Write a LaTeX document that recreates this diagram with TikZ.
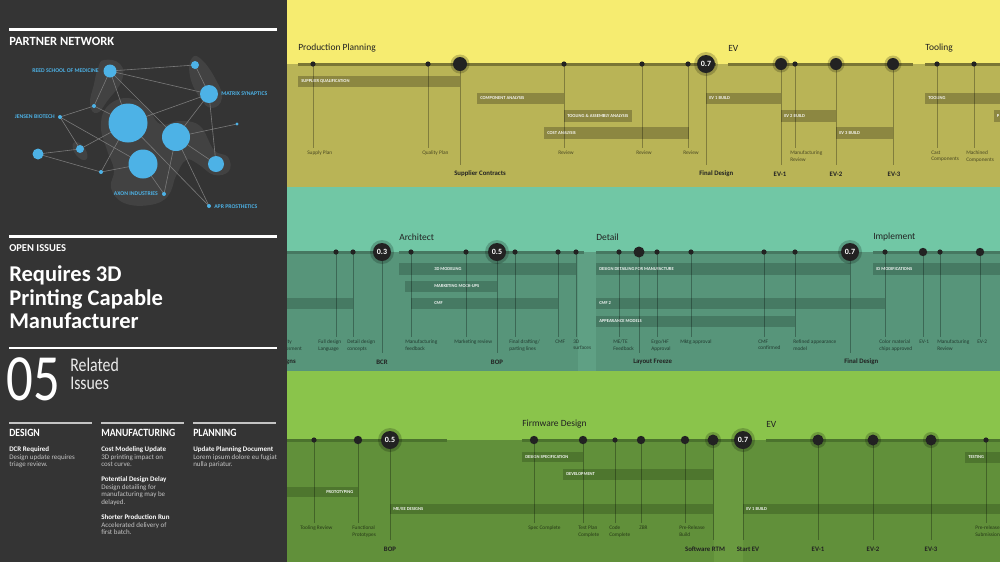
\documentclass[tikz,border=0pt]{standalone}
\usepackage{fontspec}
\setmainfont{Carlito}
\usepackage{graphicx}
\definecolor{panel}{HTML}{343434}
\definecolor{ytop}{HTML}{F6EC70}
\definecolor{ybot}{HTML}{B9B456}
\definecolor{ybarc}{HTML}{8C8741}
\definecolor{yline}{HTML}{7A7634}
\definecolor{ttop}{HTML}{71C7A5}
\definecolor{tbot}{HTML}{57957A}
\definecolor{tgap}{HTML}{5FA084}
\definecolor{tbarc}{HTML}{467A63}
\definecolor{tline}{HTML}{467861}
\definecolor{gtop}{HTML}{8AC44B}
\definecolor{gbot}{HTML}{61903A}
\definecolor{ggap}{HTML}{6A9A40}
\definecolor{gbarc}{HTML}{4E762E}
\definecolor{gline}{HTML}{4B732D}
\definecolor{dotk}{HTML}{222222}
\definecolor{nblue}{HTML}{4DB2E6}
\definecolor{edgec}{HTML}{7A7A7A}
\definecolor{itemg}{HTML}{C4C4C4}
% milestone with plain dot and small label
\newcommand\mst[7]{%
  \coordinate (#1) at (#2,#3);
  \coordinate (#1e) at (#2,#4);
  \draw[vl] (#1) -- (#1e);
  \fill[dotc] (#1) circle[radius=#5];
  \node[lab] (#1l) at (#6,#4+3) {#7};}
% milestone with big haloed dot and bold label
\newcommand\bms[8]{%
  \coordinate (#1) at (#2,#3);
  \coordinate (#1e) at (#2,#4);
  \draw[vl] (#1) -- (#1e);
  \fill[halo] (#1) circle[radius=#5+2.5];
  \fill[dotc] (#1) circle[radius=#5];
  \node[blab,anchor=#7] (#1l) at (#6,#4+9) {#8};}
% numbered milestone
\newcommand\nms[8]{%
  \coordinate (#1) at (#2,#3);
  \coordinate (#1e) at (#2,#4);
  \draw[vl] (#1) -- (#1e);
  \fill[halo] (#1) circle[radius=12];
  \node[numc] (#1n) at (#1) {#5};
  \node[blab,anchor=#7] (#1l) at (#6,#4+9) {#8};}
% task bar
\newcommand\gbar[8]{%
  \fill[#2] (#3,#4) rectangle (#5,#6);
  \node[barlab] (#1) at (#7,{(#4+#6)/2}) {#8};}
\begin{document}
\begin{tikzpicture}[x=0.75pt,y=-0.75pt,
  vl/.style={line width=0.6pt, draw=black, draw opacity=0.3},
  dotc/.style={fill=dotk},
  halo/.style={fill=black, fill opacity=0.2},
  lab/.style={anchor=north west, inner sep=0pt, align=left, font=\fontsize{4}{4.6}\selectfont, text=black, text opacity=0.6},
  blab/.style={inner sep=0pt, font=\bfseries\fontsize{5.1}{6}\selectfont, text=dotk},
  barlab/.style={anchor=west, inner sep=0pt, font=\bfseries\fontsize{3.4}{4}\selectfont, text=white, text opacity=0.92},
  ttl/.style={anchor=west, inner sep=0pt, font=\fontsize{7.1}{8}\selectfont, text=dotk},
  numc/.style={circle, fill=dotk, inner sep=0pt, minimum size=13.5pt, font=\bfseries\fontsize{6}{6}\selectfont, text=white},
  ybar/.style={fill=ybarc}, tbar/.style={fill=tbarc}, gbar/.style={fill=gbarc},
  tly/.style={draw=yline, line width=2.25pt},
  tlt/.style={draw=tline, line width=2.25pt},
  tlg/.style={draw=gline, line width=2.25pt},
  blob/.style={fill=white, fill opacity=0.07},
  edge/.style={draw=edgec, line width=0.45pt},
  nlab/.style={inner sep=0pt, font=\bfseries\fontsize{4.3}{5}\selectfont, text=nblue},
  wline/.style={draw=white, line width=2.25pt},
  colhead/.style={anchor=base west, inner sep=0pt, text=white},
  item/.style={anchor=north west, inner sep=0pt, align=left, text=itemg, font=\fontsize{5.25}{5.8}\selectfont}
]
\useasboundingbox (0,0) rectangle (1000,562);
% ================= LEFT PANEL =================
\fill[panel] (0,0) rectangle (287,562);
\draw[wline] (9,29) -- (277,29);
\node[anchor=west, inner sep=0pt, text=white, font=\bfseries\fontsize{9.4}{10}\selectfont] (pn) at (9,41) {PARTNER NETWORK};
% blobs
\fill[blob] plot[smooth cycle, tension=0.8] coordinates {(104,60) (120,64) (122,80) (108,100) (97,113) (90,104) (94,84) (98,68)};
\fill[blob] plot[smooth cycle, tension=0.8] coordinates {(192,58) (202,60) (216,80) (222,98) (212,108) (200,98) (190,76)};
\fill[blob] plot[smooth cycle, tension=0.7] coordinates {(106,108) (125,98) (146,106) (160,124) (180,121) (200,126) (214,150) (228,157) (229,171) (214,175) (198,164) (186,160) (176,176) (168,196) (150,205) (124,203) (111,188) (114,170) (107,150) (101,128)};
\fill[blob, rotate around={35:(80,151)}] (80,151) ellipse [x radius=5.5, y radius=10.5];
% network coordinates
\coordinate (reed) at (110,71);
\coordinate (s1) at (195,65);
\coordinate (matrix) at (209,94);
\coordinate (s2) at (94,106);
\coordinate (jensen) at (60,117);
\coordinate (cen) at (128,123);
\coordinate (rb) at (176,137);
\coordinate (s3) at (237,124);
\coordinate (l1) at (38,154);
\coordinate (s4) at (80,149);
\coordinate (bb) at (143,164);
\coordinate (r2) at (216,164);
\coordinate (s5) at (101,172);
\coordinate (axon) at (164,194);
\coordinate (apr) at (209,206);
\foreach \a/\b in {reed/s1, reed/matrix, reed/s2, reed/cen, reed/rb, s1/matrix, matrix/cen, matrix/rb, matrix/r2, s2/cen, s2/jensen, jensen/s4, jensen/bb, cen/s4, cen/s5, cen/apr, rb/s3, rb/r2, rb/axon, rb/apr, l1/s4, l1/s5, s5/bb, bb/axon}
  \draw[edge] (\a) -- (\b);
\foreach \n/\r in {reed/6.5, s1/4, matrix/9, s2/2, jensen/2, cen/19.5, rb/14, s3/1.6, l1/5.5, s4/4, bb/14.5, r2/8, s5/2, axon/2, apr/2}
  \fill[nblue] (\n) circle[radius=\r];
\node[nlab, anchor=east] (lreed) at (99,71) {REED SCHOOL OF MEDICINE};
\node[nlab, anchor=west] (lmatrix) at (221,94) {MATRIX SYNAPTICS};
\node[nlab, anchor=east] (ljensen) at (55,117) {JENSEN BIOTECH};
\node[nlab, anchor=east] (laxon) at (158,194) {AXON INDUSTRIES};
\node[nlab, anchor=west] (lapr) at (214,207) {APR PROSTHETICS};
% open issues
\draw[wline] (9,236.5) -- (277,236.5);
\node[anchor=west, inner sep=0pt, text=white, font=\bfseries\fontsize{7.9}{9}\selectfont] (oi) at (9,248) {OPEN ISSUES};
\node[anchor=north west, inner sep=0pt, align=left, text=white, font=\bfseries\fontsize{16.9}{17.6}\selectfont] (req) at (9,265.5) {Requires 3D\\Printing Capable\\Manufacturer};
\draw[draw=white, line width=0.9pt] (9,348) -- (277,348);
\node[anchor=base west, inner sep=0pt, text=white] (n05) at (6,400) {\scalebox{0.8}[1]{\fontsize{49.5}{50}\selectfont 05}};
\node[anchor=base west, inner sep=0pt, text=white!92!black] (rel1) at (70,371) {\scalebox{0.82}[1]{\fontsize{14.5}{15}\selectfont Related}};
\node[anchor=base west, inner sep=0pt, text=white!92!black] (rel2) at (70,389) {\scalebox{0.82}[1]{\fontsize{14.5}{15}\selectfont Issues}};
% columns
\draw[draw=itemg, line width=1.5pt] (9,423) -- (92,423);
\draw[draw=itemg, line width=1.5pt] (101,423) -- (184,423);
\draw[draw=itemg, line width=1.5pt] (193,423) -- (276,423);
\node[colhead] (hd) at (9,436) {\scalebox{0.88}[1]{\bfseries\fontsize{8.3}{9}\selectfont DESIGN}};
\node[colhead] (hm) at (101,436) {\scalebox{0.88}[1]{\bfseries\fontsize{8.3}{9}\selectfont MANUFACTURING}};
\node[colhead] (hp) at (193,436) {\scalebox{0.88}[1]{\bfseries\fontsize{8.3}{9}\selectfont PLANNING}};
\node[item] (i1) at (9,446.3) {{\bfseries\color{white}DCR Required}\\Design update requires\\triage review.};
\node[item] (i2) at (101,446.3) {{\bfseries\color{white}Cost Modeling Update}\\3D printing impact on\\cost curve.};
\node[item] (i3) at (101,476.3) {{\bfseries\color{white}Potential Design Delay}\\Design detailing for\\manufacturing may be\\delayed.};
\node[item] (i4) at (101,514.3) {{\bfseries\color{white}Shorter Production Run}\\Accelerated delivery of\\first batch.};
\node[item] (i5) at (193,446.3) {{\bfseries\color{white}Update Planning Document}\\Lorem ipsum dolore eu fugiat\\nulla pariatur.};
% ================= RIGHT PANEL =================
\begin{scope}
\clip (287,0) rectangle (1000,562);
% backgrounds
\fill[ytop] (287,0) rectangle (1000,64);
\fill[ybot] (287,64) rectangle (1000,187);
\fill[ttop] (287,187) rectangle (1000,252);
\fill[tbot] (287,252) rectangle (1000,371);
\fill[tgap] (578,252) rectangle (596,371);
\fill[gtop] (287,371) rectangle (1000,440);
\fill[gbot] (287,440) rectangle (1000,562);
\fill[ggap] (714,440) rectangle (743,562);
% ---------- yellow band ----------
\node[ttl] (tpp) at (298,48) {Production Planning};
\node[ttl] (tev) at (728,48) {EV};
\node[ttl] (ttool) at (925,48) {Tooling};
\draw[tly] (298,64) -- (716,64);
\draw[tly] (728,64) -- (913,64);
\draw[tly] (925,64) -- (1005,64);
\gbar{bsq}{ybar}{298}{76}{460}{87}{301}{SUPPLIER QUALIFICATION}
\gbar{bca}{ybar}{477}{93}{564}{104}{480}{COMPONENT ANALYSIS}
\gbar{bta}{ybar}{564}{110}{632}{122}{567}{TOOLING \& ASSEMBLY ANALYSIS}
\gbar{bco}{ybar}{544}{127}{689}{139}{547}{COST ANALYSIS}
\gbar{be1}{ybar}{706}{93}{781}{104}{709}{EV 1 BUILD}
\gbar{be2}{ybar}{781}{110}{836}{122}{784}{EV 2 BUILD}
\gbar{be3}{ybar}{836}{127}{893}{139}{839}{EV 3 BUILD}
\gbar{btl}{ybar}{925}{93}{1005}{104}{928}{TOOLING}
\gbar{bpx}{ybar}{994}{110}{1005}{122}{996.5}{P}
\mst{ysp}{313}{64}{148}{2.6}{307}{Supply Plan}
\mst{yqp}{428}{64}{148}{2.6}{422}{Quality Plan}
\bms{ysc}{460}{64}{165}{7}{454}{west}{Supplier Contracts}
\mst{yr1}{564}{64}{148}{2.6}{558}{Review}
\mst{yr2}{642}{64}{148}{2.6}{636}{Review}
\mst{yr3}{688}{64}{148}{2.6}{683}{Review}
\nms{yfd}{706}{64}{165}{0.7}{699}{west}{Final Design}
\bms{ye1}{781}{64}{165}{6}{780}{center}{EV-1}
\mst{ymr}{795}{64}{148}{2.6}{790}{Manufacturing\\Review}
\bms{ye2}{836}{64}{165}{6}{836}{center}{EV-2}
\bms{ye3}{893}{64}{165}{6}{894}{center}{EV-3}
\mst{ycc}{937}{64}{148}{2.6}{931}{Cast\\Components}
\mst{ymc}{974}{64}{148}{2.6}{966}{Machined\\Components}
% ---------- teal band ----------
\node[ttl] (tarc) at (399,237) {Architect};
\node[ttl] (tdet) at (596,237) {Detail};
\node[ttl] (timp) at (873,237) {Implement};
\draw[tlt] (280,252) -- (390,252);
\draw[tlt] (399,252) -- (584,252);
\draw[tlt] (596,252) -- (858,252);
\draw[tlt] (873,252) -- (1005,252);
\gbar{blft}{tbar}{280}{298}{353}{309}{283}{}
\gbar{bmd}{tbar}{399}{263}{576}{275}{434}{3D MODELING}
\gbar{bmm}{tbar}{405}{281}{497}{292}{434}{MARKETING MOCK-UPS}
\gbar{bcmf}{tbar}{411}{298}{558}{309}{434}{CMF}
\gbar{bddm}{tbar}{596}{263}{850}{275}{599}{DESIGN DETAILING FOR MANUFACTURE}
\gbar{bcmf2}{tbar}{596}{298}{885}{309}{599}{CMF 2}
\gbar{bam}{tbar}{596}{316}{795}{327}{599}{APPEARANCE MODELS}
\gbar{bidm}{tbar}{873}{263}{1005}{275}{876}{ID MODIFICATIONS}
\node[lab] (tqa) at (276,340) {Quality\\Assessment};
\node[blab, anchor=east] (tdz) at (296,362) {Designs};
\mst{tfdl}{336}{252}{337}{2.6}{318}{Full design\\Language}
\mst{tdd}{353}{252}{337}{2.6}{347}{Detail design\\concepts}
\nms{tbcr}{382}{252}{353}{0.3}{382}{center}{BCR}
\mst{tmf}{411}{252}{337}{2.6}{405}{Manufacturing\\feedback}
\mst{tmr}{466}{252}{337}{2.6}{454}{Marketing review}
\nms{tbop}{497}{252}{353}{0.5}{497}{center}{BOP}
\mst{tfdp}{515}{252}{337}{2.6}{509}{Final drafting/\\parting lines}
\mst{tcmf}{558}{252}{337}{2.6}{555}{CMF}
\mst{t3d}{576}{252}{337}{2.6}{573}{3D\\surfaces}
\mst{tme}{619}{252}{337}{2.6}{613}{ME/TE\\Feedback}
\coordinate (tlf) at (639,252);
\coordinate (tlfe) at (639,353);
\draw[vl] (tlf) -- (tlfe);
\fill[dotc] (tlf) circle[radius=5.5];
\node[blab, anchor=west] (tlfl) at (633,362) {Layout Freeze};
\mst{terg}{657}{252}{337}{2.6}{651}{Ergo/HF\\Approval}
\mst{tmk}{691}{252}{337}{2.6}{680}{Mktg approval}
\mst{tcc}{764}{252}{337}{2.6}{758}{CMF\\confirmed}
\mst{tra}{795}{252}{337}{2.6}{793}{Refined appearance\\model}
\nms{tfin}{850}{252}{353}{0.7}{844}{west}{Final Design}
\mst{tcm}{885}{252}{337}{2.6}{879}{Color material\\chips approved}
\mst{tev1}{923}{252}{337}{4.2}{919}{EV-1}
\mst{tmr2}{940}{252}{337}{2.6}{937}{Manufacturing\\Review}
\mst{tev2}{980}{252}{337}{4.2}{977}{EV-2}
% ---------- green band ----------
\node[ttl] (tfw) at (522,424) {Firmware Design};
\node[ttl] (tev2) at (766,424) {EV};
\draw[tlg] (280,440) -- (447,440);
\draw[tlg] (522,440) -- (748,440);
\draw[tlg] (766,440) -- (1005,440);
\gbar{bpr}{gbar}{280}{487}{358}{497}{326}{PROTOTYPING}
\gbar{bds}{gbar}{522}{452}{583}{462}{525}{DESIGN SPECIFICATION}
\gbar{bdv}{gbar}{563}{469}{713}{480}{566}{DEVELOPMENT}
\gbar{bme}{gbar}{390}{504}{713}{514}{393}{ME/EE DESIGNS}
\gbar{beb}{gbar}{743}{504}{1005}{514}{746}{EV 1 BUILD}
\gbar{bts}{gbar}{965}{452}{1005}{463}{968}{TESTING}
\mst{gtr}{314}{440}{523}{2.6}{300}{Tooling Review}
\mst{gfp}{358}{440}{523}{4.2}{352}{Functional\\Prototypes}
\nms{gbop}{390}{440}{540}{0.5}{390}{center}{BOP}
\mst{gsc}{534}{440}{523}{4.2}{528}{Spec Complete}
\mst{gtp}{583}{440}{523}{4.2}{578}{Test Plan\\Complete}
\mst{gcc}{615}{440}{523}{2.6}{609}{Code\\Complete}
\mst{gzbr}{641}{440}{523}{4.2}{639}{ZBR}
\mst{gprb}{685}{440}{523}{4.2}{679}{Pre-Release\\Build}
\bms{grtm}{713}{440}{540}{5.5}{705}{center}{Software RTM}
\nms{gsev}{743}{440}{540}{0.7}{748}{center}{Start EV}
\bms{ge1}{818}{440}{540}{5.5}{818}{center}{EV-1}
\bms{ge2}{873}{440}{540}{5.5}{873}{center}{EV-2}
\bms{ge3}{931}{440}{540}{5.5}{931}{center}{EV-3}
\mst{gprs}{986}{440}{523}{2.6}{975}{Pre-release\\Submission}
\end{scope}
\end{tikzpicture}
\end{document}
